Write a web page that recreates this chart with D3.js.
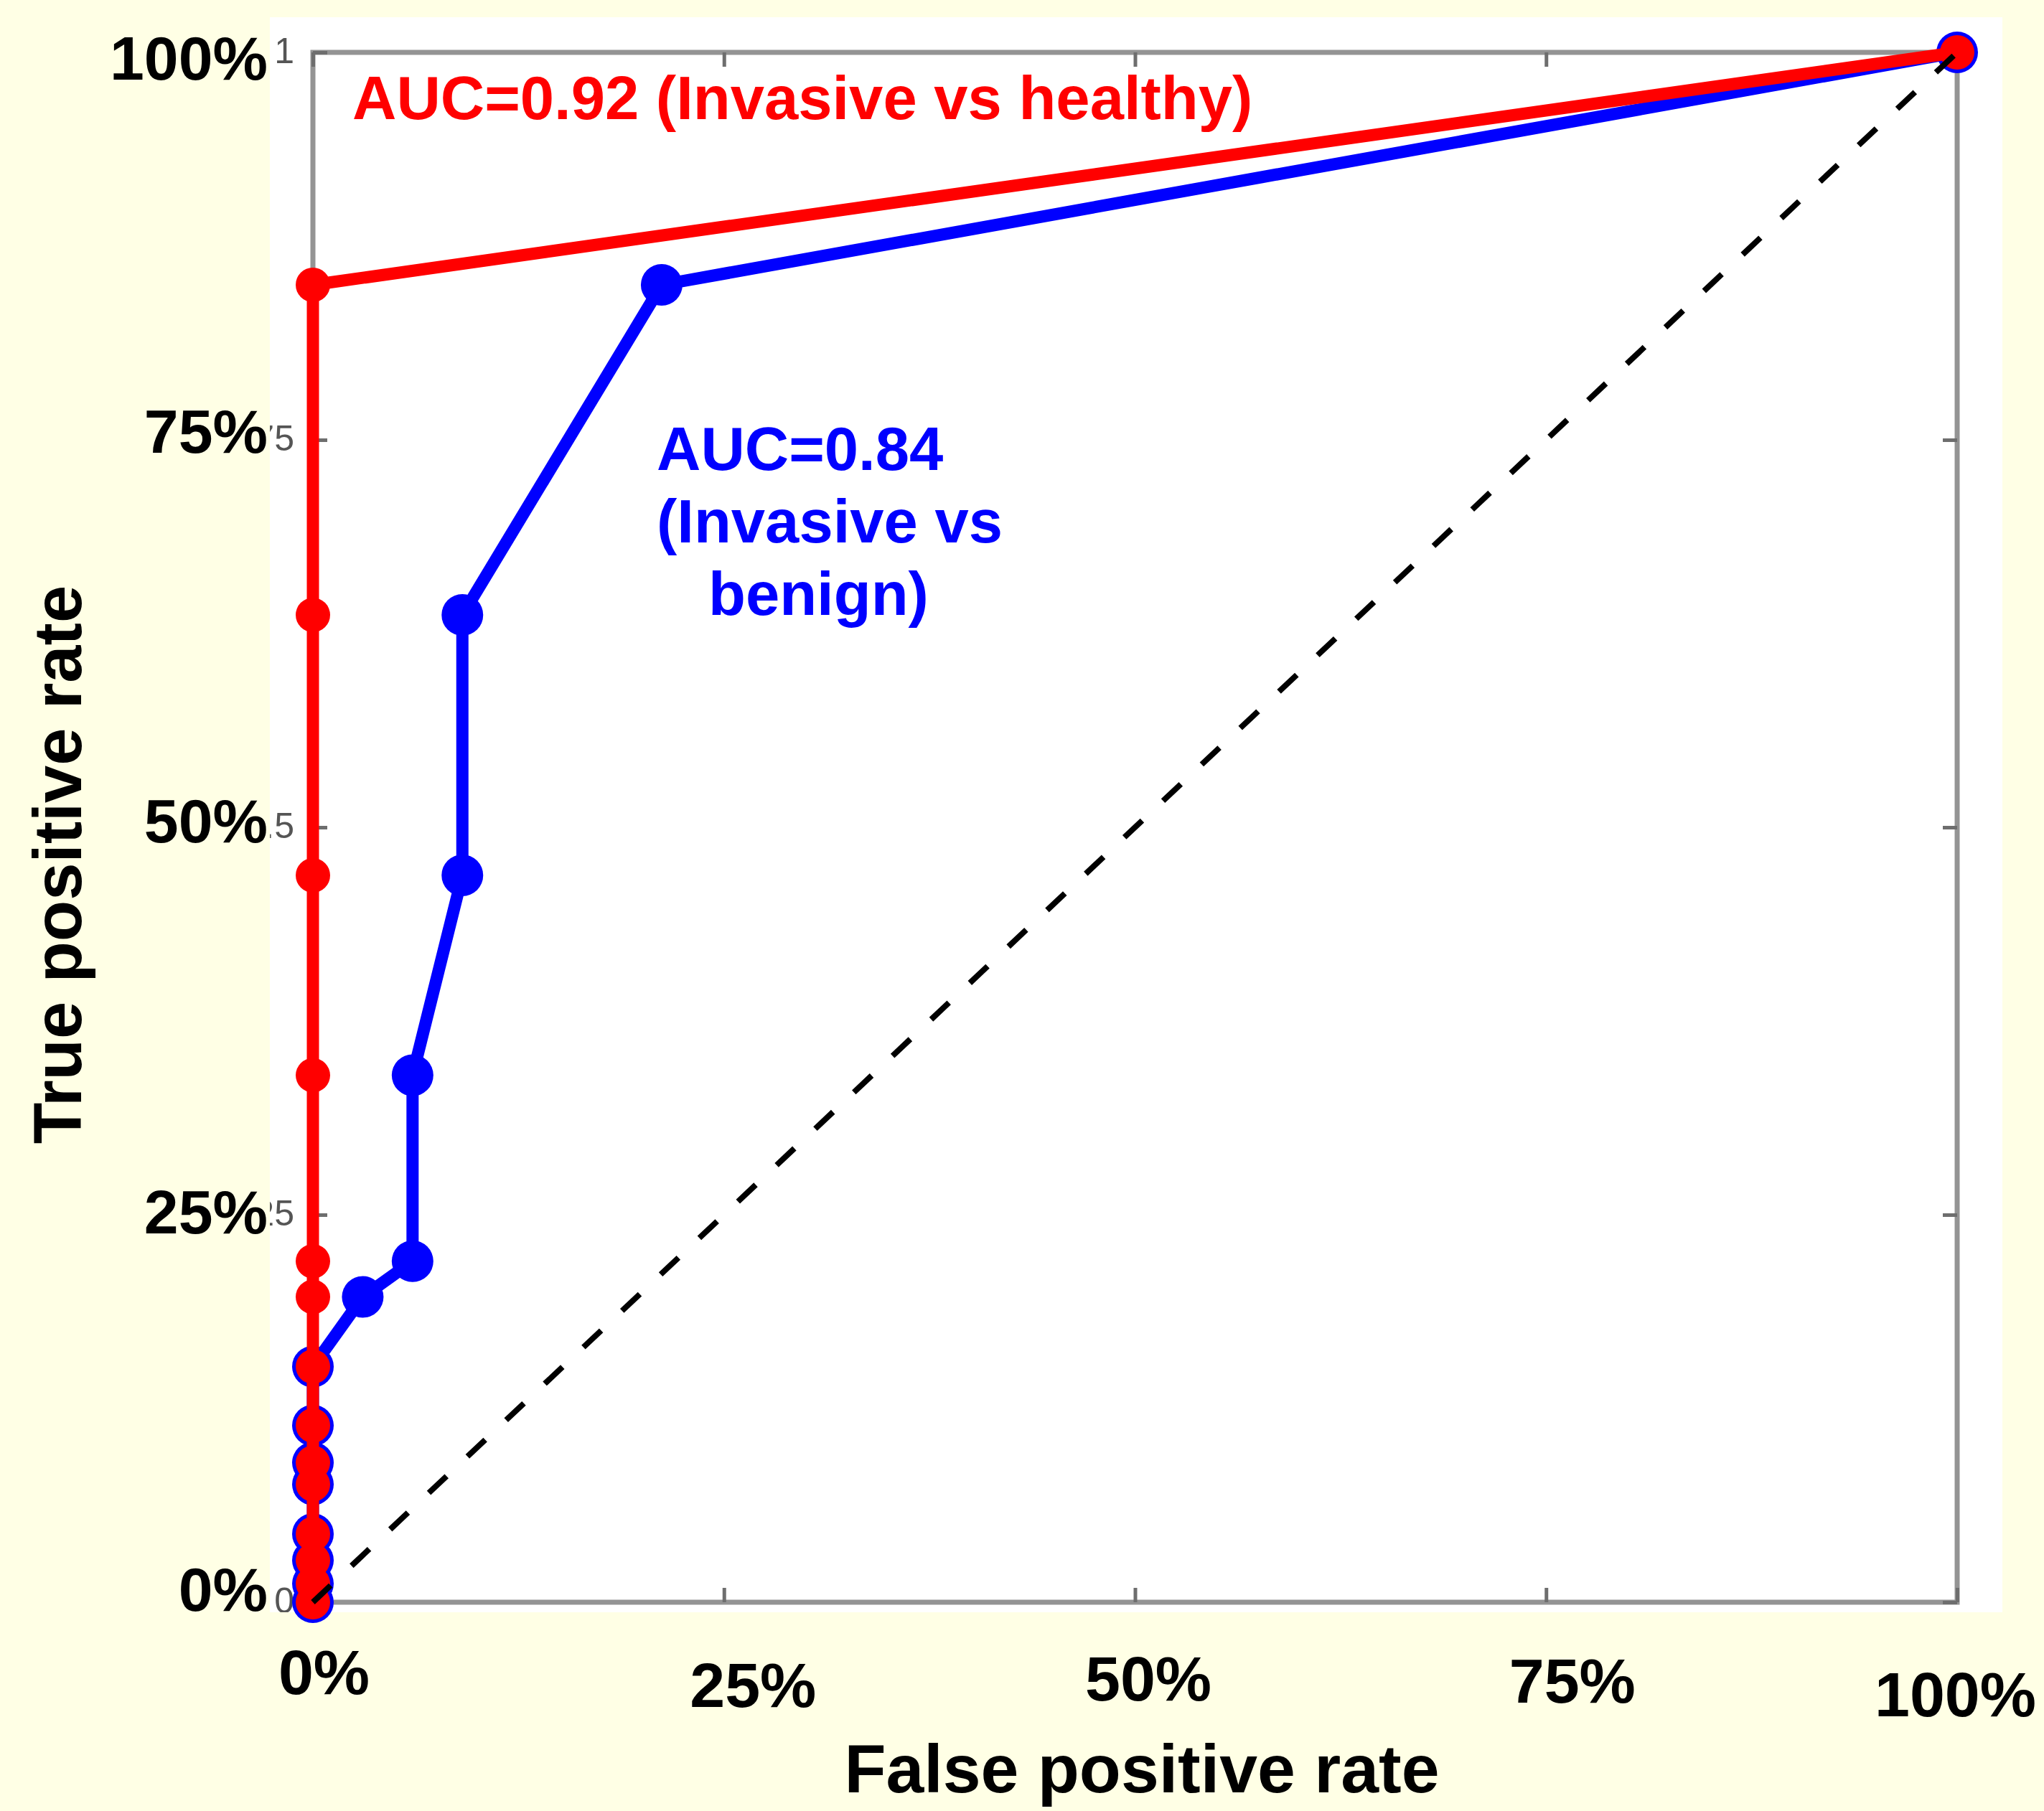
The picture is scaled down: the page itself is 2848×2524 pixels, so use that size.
<!DOCTYPE html>
<html>
<head>
<meta charset="utf-8">
<script src="https://cdn.jsdelivr.net/npm/d3@7"></script>
<style>
  body { margin: 0; background: #ffffe5; }
  text { font-family: "Liberation Sans", Arial, Helvetica, sans-serif; }
</style>
</head>
<body>
<div id="roc"></div>
<script>
// ROC points (true positive rate levels shared by both curves)
var tprLevels = [0, 0.012, 0.027, 0.044, 0.076, 0.09, 0.114, 0.152, 0.197, 0.22, 0.34, 0.469, 0.637, 0.85, 1];
var fprHealthy = [0, 0, 0, 0, 0, 0, 0, 0, 0, 0, 0, 0, 0, 0, 1];
var fprBenign = [0, 0, 0, 0, 0, 0, 0, 0, 0.0303, 0.0606, 0.0606, 0.0909, 0.0909, 0.2121, 1];
var chanceLine = [0, 1];
var tickValues = [0, 0.25, 0.5, 0.75, 1];

var aucHealthy = "AUC=0.92 (Invasive vs healthy)";
var aucBenign = ["AUC=0.84", "(Invasive vs", "benign)"];

// the slide's % labels were placed by hand, a bit off the ticks
var xLabelNudge = [[15, -14], [40, 4], [18, -5], [36, -2], [-3, 17]];
var yLabelNudge = [-14, 0, -5, -8, 12];

var svgWidth = 2848;
var svgHeight = 2524;

var margin = {
  top: 73,
  right: 121,
  bottom: 291,
  left: 436
};

var width = svgWidth - margin.left - margin.right;
var height = svgHeight - margin.top - margin.bottom;

var svg = d3.select("#roc")
  .append("svg")
  .attr("width", svgWidth)
  .attr("height", svgHeight);

svg.append("rect")
  .attr("width", svgWidth)
  .attr("height", svgHeight)
  .attr("fill", "#ffffe5");

var chartGroup = svg.append("g")
  .attr("transform", `translate(${margin.left}, ${margin.top})`);

// white figure area pasted on the slide
var panel = { x: -60, y: -49, w: 2414, h: 2223 };
chartGroup.append("rect")
  .attr("x", panel.x)
  .attr("y", panel.y)
  .attr("width", panel.w)
  .attr("height", panel.h)
  .attr("fill", "#ffffff");

svg.append("clipPath")
  .attr("id", "panelClip")
  .append("rect")
  .attr("x", panel.x)
  .attr("y", panel.y)
  .attr("width", panel.w)
  .attr("height", panel.h);

var xScale = d3.scaleLinear().domain([0, 1]).range([0, width]);
var yScale = d3.scaleLinear().domain([0, 1]).range([height, 0]);

// original matlab tick labels, mostly hidden under the slide edge
var matlabLeft = chartGroup.append("g")
  .attr("clip-path", "url(#panelClip)")
  .call(d3.axisLeft(yScale).tickValues(tickValues).tickSize(0).tickPadding(26)
    .tickFormat(d => d3.format("")(d)));
matlabLeft.select(".domain").remove();
matlabLeft.selectAll("text")
  .attr("dy", "0.28em")
  .style("font-size", "50px")
  .style("font-family", "Helvetica, 'Liberation Sans', Arial, sans-serif")
  .attr("fill", "#555");

// box
chartGroup.append("rect")
  .attr("width", width)
  .attr("height", height)
  .attr("fill", "none")
  .attr("stroke", "#949494")
  .attr("stroke-width", 7);

// inward ticks on all four sides
function tickAxis(axis, transform) {
  var g = chartGroup.append("g")
    .attr("transform", transform)
    .call(axis.tickValues(tickValues).tickSize(-20).tickFormat(""));
  g.select(".domain").remove();
  g.selectAll(".tick line")
    .attr("stroke", "#6e6e6e")
    .attr("stroke-width", 5);
}
tickAxis(d3.axisBottom(xScale), `translate(0, ${height})`);
tickAxis(d3.axisTop(xScale), "translate(0, 0)");
tickAxis(d3.axisLeft(yScale), "translate(0, 0)");
tickAxis(d3.axisRight(yScale), `translate(${width}, 0)`);

var rocLine = d3.line()
  .x(d => xScale(d[0]))
  .y(d => yScale(d[1]));

var benignPts = fprBenign.map((f, i) => [f, tprLevels[i]]);
var healthyPts = fprHealthy.map((f, i) => [f, tprLevels[i]]);

function drawCurve(pts, color, r) {
  chartGroup.append("path")
    .datum(pts)
    .attr("d", rocLine)
    .attr("fill", "none")
    .attr("stroke", color)
    .attr("stroke-width", 17)
    .attr("stroke-linejoin", "round");
  chartGroup.append("g")
    .selectAll("circle")
    .data(pts)
    .enter()
    .append("circle")
    .attr("cx", d => xScale(d[0]))
    .attr("cy", d => yScale(d[1]))
    .attr("r", r)
    .attr("fill", color);
}

drawCurve(benignPts, "#0000ff", 29);
drawCurve(healthyPts, "#ff0000", 24);

// chance diagonal
chartGroup.append("path")
  .datum(chanceLine.map(d => [d, d]))
  .attr("d", rocLine)
  .attr("fill", "none")
  .attr("stroke", "#000")
  .attr("stroke-width", 8)
  .attr("stroke-dasharray", "34,40");

// slide tick labels
var xLabels = chartGroup.append("g")
  .attr("transform", `translate(0, ${height})`)
  .call(d3.axisBottom(xScale).tickValues(tickValues).tickSize(0).tickPadding(80)
    .tickFormat(d3.format(".0%")));
xLabels.select(".domain").remove();
xLabels.selectAll("text")
  .attr("dx", (d, i) => xLabelNudge[i][0])
  .attr("y", (d, i) => 80 + xLabelNudge[i][1])
  .style("font-size", "88px")
  .style("font-weight", "bold")
  .attr("fill", "#000");

var yLabels = chartGroup.append("g")
  .call(d3.axisLeft(yScale).tickValues(tickValues).tickSize(0).tickPadding(63)
    .tickFormat(d3.format(".0%")));
yLabels.select(".domain").remove();
yLabels.selectAll("text")
  .attr("y", (d, i) => yLabelNudge[i])
  .attr("dy", "0.3em")
  .style("font-size", "86px")
  .style("font-weight", "bold")
  .attr("fill", "#000");

// axis titles
svg.append("text")
  .attr("x", 1591)
  .attr("y", 2498)
  .attr("text-anchor", "middle")
  .style("font-size", "95px")
  .style("font-weight", "bold")
  .text("False positive rate");

svg.append("text")
  .attr("transform", "translate(113, 1205) rotate(-90)")
  .attr("text-anchor", "middle")
  .style("font-size", "94px")
  .style("font-weight", "bold")
  .text("True positive rate");

// AUC annotations
svg.append("text")
  .attr("x", 491)
  .attr("y", 166)
  .attr("fill", "#ff0000")
  .style("font-size", "85px")
  .style("font-weight", "bold")
  .text(aucHealthy);

var blueText = svg.append("text")
  .attr("fill", "#0000ff")
  .style("font-size", "85px")
  .style("font-weight", "bold");
blueText.selectAll("tspan")
  .data(aucBenign)
  .enter()
  .append("tspan")
  .attr("x", (d, i) => i === 2 ? 987 : 915)
  .attr("y", (d, i) => 655 + i * 101)
  .text(d => d);
</script>
</body>
</html>
